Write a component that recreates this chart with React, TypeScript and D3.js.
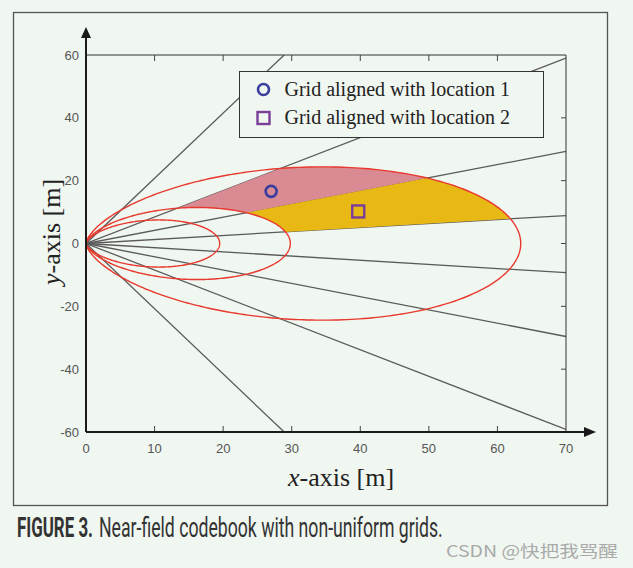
import React, { useLayoutEffect, useRef, useState } from 'react';
import * as d3 from 'd3';

const xTicks = [0, 10, 20, 30, 40, 50, 60, 70];
const yTicks = [-60, -40, -20, 0, 20, 40, 60];
// beam directions: end point of each ray (x, y) in metres
const rayEnds: [number, number][] = [
  [28.9, 60], [70, 59], [70, 29.3], [70, 8.9],
  [70, -9.3], [70, -29.6], [70, -59.2], [28.9, -60],
];
// depth of each near-field focusing region (r = L cos^2 theta)
const contourLengths = [19.5, 29.8, 63.4];
const location1: [number, number] = [27.0, 16.6];
const location2: [number, number] = [39.7, 10.2];
const legendLabels = ['Grid aligned with location 1', 'Grid aligned with location 2'];
// highlighted grid cells: [ray index a, ray index b, inner contour, outer contour, colour]
const cells: [number, number, number, number, string][] = [
  [1, 2, 1, 2, '#d98a92'],
  [2, 3, 1, 2, '#e8b814'],
];

const W = 633, H = 568;
const BG = '#f0f6f0';

function FitText(props: { x: number; y: number; width: number; children: string; [k: string]: any }) {
  const { x, y, width, children, ...rest } = props;
  const ref = useRef<SVGTextElement>(null);
  const [s, setS] = useState(1);
  useLayoutEffect(() => {
    if (ref.current) {
      const w = ref.current.getComputedTextLength();
      if (w > 0) setS(width / w);
    }
  }, [width, children]);
  return (
    <text ref={ref} transform={`translate(${x},${y}) scale(${s},1)`} {...rest}>{children}</text>
  );
}

export default function App() {
  const x = d3.scaleLinear().domain([0, 70]).range([86, 566]);
  const y = d3.scaleLinear().domain([-60, 60]).range([432, 55]);
  const line = d3.line<[number, number]>().x(d => x(d[0])).y(d => y(d[1]));

  const ang = (p: [number, number]) => Math.atan2(p[1], p[0]);
  const pt = (L: number, t: number): [number, number] => {
    const r = L * Math.cos(t) ** 2;
    return [r * Math.cos(t), r * Math.sin(t)];
  };
  const arc = (L: number, t0: number, t1: number, n = 120) =>
    d3.range(n + 1).map(i => pt(L, t0 + ((t1 - t0) * i) / n));

  const contourPaths = contourLengths.map(L => line(arc(L, -Math.PI / 2, Math.PI / 2, 360)) as string);

  const cellPaths = cells.map(([a, b, ci, co, col]) => {
    const ta = ang(rayEnds[a]);
    const tb = ang(rayEnds[b]);
    const pts = [...arc(contourLengths[co], ta, tb), ...arc(contourLengths[ci], tb, ta)];
    return { d: (line(pts) as string) + 'Z', col };
  });

  const sans = 'Liberation Sans, Arial, sans-serif';
  const serif = 'Liberation Serif, Times New Roman, serif';

  return (
    <svg width={W} height={H} style={{ position: 'absolute', left: 0, top: 0 }} xmlns="http://www.w3.org/2000/svg">
      <rect x={0} y={0} width={W} height={H} fill={BG} />
      <rect x={13.5} y={12.5} width={594} height={493} fill={BG} stroke="#555" strokeWidth={1.3} />

      <defs>
        <clipPath id="plotclip">
          <rect x={x(0)} y={y(60)} width={x(70) - x(0)} height={y(-60) - y(60)} />
        </clipPath>
      </defs>

      <g clipPath="url(#plotclip)">
        {rayEnds.map((e, i) => (
          <path key={i} d={line([[0, 0], e]) as string} stroke="#5a5a5a" strokeWidth={1.3} fill="none" />
        ))}
        {cellPaths.map((c, i) => (
          <path key={i} d={c.d} fill={c.col} stroke="none" />
        ))}
        {contourPaths.map((d, i) => (
          <path key={i} d={d} fill="none" stroke="#e8392e" strokeWidth={1.4} />
        ))}
      </g>

      {/* box top/right */}
      <line x1={x(0)} x2={x(70)} y1={y(60)} y2={y(60)} stroke="#333" strokeWidth={1} />
      <line x1={x(70)} x2={x(70)} y1={y(60)} y2={y(-60)} stroke="#333" strokeWidth={1} />
      {xTicks.filter(t => t > 0 && t < 70).map(t => (
        <g key={t}>
          <line x1={x(t)} x2={x(t)} y1={y(60)} y2={y(60) + 6} stroke="#444" strokeWidth={1} />
          <line x1={x(t)} x2={x(t)} y1={y(-60)} y2={y(-60) - 6} stroke="#444" strokeWidth={1} />
        </g>
      ))}
      {yTicks.filter(t => t > -60 && t < 60).map(t => (
        <line key={t} x1={x(70)} x2={x(70) - 5} y1={y(t)} y2={y(t)} stroke="#444" strokeWidth={1} />
      ))}

      {/* axes with arrows */}
      <line x1={x(0)} x2={x(0)} y1={y(-60)} y2={34} stroke="#1a1a1a" strokeWidth={2} />
      <line x1={x(0)} x2={588} y1={y(-60)} y2={y(-60)} stroke="#1a1a1a" strokeWidth={2} />
      <path d={`M${x(0)},27 L${x(0) - 5},38 L${x(0) + 5},38 Z`} fill="#1a1a1a" />
      <path d={`M596,${y(-60)} L584,${y(-60) - 5} L584,${y(-60) + 5} Z`} fill="#1a1a1a" />

      {/* tick labels */}
      {xTicks.map(t => (
        <text key={t} x={x(t)} y={453} textAnchor="middle" fontFamily={sans} fontSize={13} fill="#555">{t}</text>
      ))}
      {yTicks.map(t => (
        <text key={t} x={79} y={y(t) + 4.5} textAnchor="end" fontFamily={sans} fontSize={13} fill="#555">{t}</text>
      ))}

      {/* axis labels */}
      <text x={341} y={486} textAnchor="middle" fontFamily={serif} fontSize={26} fill="#222">
        <tspan fontStyle="italic">x</tspan>-axis [m]
      </text>
      <text transform={`translate(60,232) rotate(-90)`} textAnchor="middle" fontFamily={serif} fontSize={26} fill="#222">
        <tspan fontStyle="italic">y</tspan>-axis [m]
      </text>

      {/* markers */}
      <circle cx={x(location1[0])} cy={y(location1[1])} r={5.5} fill="none" stroke="#3a3f9f" strokeWidth={2.6} />
      <rect x={x(location2[0]) - 6} y={y(location2[1]) - 6} width={12} height={12} fill="none" stroke="#7a3d98" strokeWidth={2.4} />

      {/* legend */}
      <rect x={239.5} y={71.5} width={304} height={66} fill={BG} stroke="#333" strokeWidth={1} />
      <circle cx={263.5} cy={89.5} r={5.5} fill="none" stroke="#3a3f9f" strokeWidth={2.6} />
      <rect x={257.5} y={112} width={12} height={12} fill="none" stroke="#7a3d98" strokeWidth={2.4} />
      {legendLabels.map((l, i) => (
        <text key={i} x={284.5} y={96 + i * 28} fontFamily={serif} fontSize={20} fill="#222">{l}</text>
      ))}

      {/* caption */}
      <FitText x={17} y={537} width={76} fontFamily="Roboto, sans-serif" fontSize={27} fontWeight="bold" fill="#333">FIGURE 3.</FitText>
      <FitText x={99} y={537} width={344} fontFamily="Roboto, sans-serif" fontSize={27} fill="#333">Near-field codebook with non-uniform grids.</FitText>

      {/* watermark */}
      <FitText x={446} y={557} width={172} fontFamily="Noto Sans CJK SC, sans-serif" fontSize={16} fill="#aaa">CSDN @快把我骂醒</FitText>
    </svg>
  );
}
